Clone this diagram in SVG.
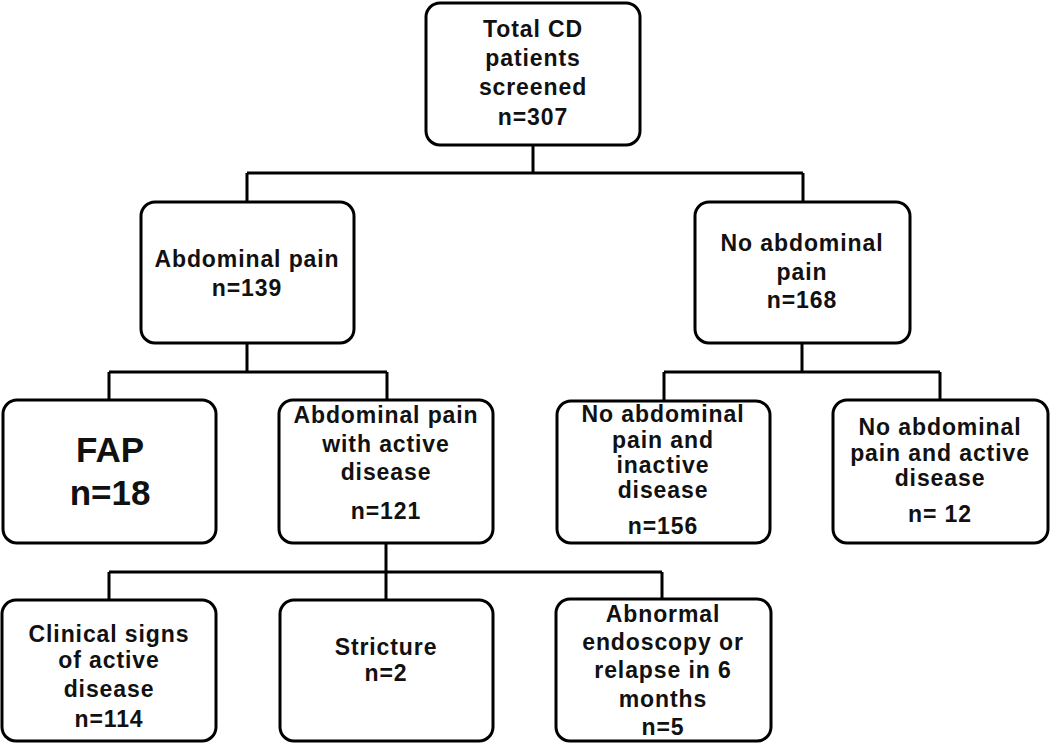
<svg xmlns="http://www.w3.org/2000/svg" width="1050" height="745" viewBox="0 0 1050 745">
<style>
.box{fill:#fff;stroke:#000;stroke-width:3}
.t{font-family:"Liberation Sans",Arial,sans-serif;font-weight:bold;font-size:23px;letter-spacing:0.9px;text-anchor:middle;fill:#111}
.big{font-size:35px;letter-spacing:0}
.c{fill:none;stroke:#000;stroke-width:3}
</style>
<rect width="1050" height="745" fill="#fff"/>
<g id="connectors" class="c">
<path d="M533 145V173M247 173H803M247 173V202M803 173V202"/>
<path d="M247 343V372M109 372H387M109 372V400M387 372V400"/>
<path d="M802 343V372M664 372H940M664 372V401M940 372V400"/>
<path d="M386 543V600M109 572H662M109 572V600M662 572V599"/>
</g>
<g id="total">
<rect class="box" x="426" y="3" width="214" height="142" rx="14"/>
<text class="t" x="533" y="37">Total CD</text>
<text class="t" x="533" y="66">patients</text>
<text class="t" x="533" y="95">screened</text>
<text class="t" x="533" y="125">n=307</text>
</g>
<g id="abd">
<rect class="box" x="141" y="202" width="213" height="141" rx="14"/>
<text class="t" x="247" y="267">Abdominal pain</text>
<text class="t" x="247" y="296">n=139</text>
</g>
<g id="noabd">
<rect class="box" x="695" y="202" width="215" height="141" rx="14"/>
<text class="t" x="802" y="251">No abdominal</text>
<text class="t" x="802" y="280">pain</text>
<text class="t" x="802" y="308">n=168</text>
</g>
<g id="fap">
<rect class="box" x="3" y="400" width="213" height="143" rx="14"/>
<text class="t big" x="110" y="462">FAP</text>
<text class="t big" x="110" y="505">n=18</text>
</g>
<g id="active">
<rect class="box" x="279" y="400" width="214" height="143" rx="14"/>
<text class="t" x="386" y="423">Abdominal pain</text>
<text class="t" x="386" y="452">with active</text>
<text class="t" x="386" y="480">disease</text>
<text class="t" x="386" y="519">n=121</text>
</g>
<g id="inactive">
<rect class="box" x="557" y="401" width="213" height="142" rx="14"/>
<text class="t" x="663" y="422">No abdominal</text>
<text class="t" x="663" y="448">pain and</text>
<text class="t" x="663" y="473">inactive</text>
<text class="t" x="663" y="498">disease</text>
<text class="t" x="663" y="534">n=156</text>
</g>
<g id="noabdactive">
<rect class="box" x="833" y="400" width="215" height="143" rx="14"/>
<text class="t" x="940" y="435">No abdominal</text>
<text class="t" x="940" y="461">pain and active</text>
<text class="t" x="940" y="486">disease</text>
<text class="t" x="940" y="522">n= 12</text>
</g>
<g id="clinical">
<rect class="box" x="2" y="600" width="214" height="141" rx="14"/>
<text class="t" x="109" y="642">Clinical signs</text>
<text class="t" x="109" y="668">of active</text>
<text class="t" x="109" y="697">disease</text>
<text class="t" x="109" y="727">n=114</text>
</g>
<g id="stricture">
<rect class="box" x="280" y="600" width="213" height="141" rx="14"/>
<text class="t" x="386" y="655">Stricture</text>
<text class="t" x="386" y="681">n=2</text>
</g>
<g id="abnormal">
<rect class="box" x="556" y="599" width="215" height="142" rx="14"/>
<text class="t" x="663" y="622">Abnormal</text>
<text class="t" x="663" y="650">endoscopy or</text>
<text class="t" x="663" y="678">relapse in 6</text>
<text class="t" x="663" y="707">months</text>
<text class="t" x="663" y="735">n=5</text>
</g>
</svg>
